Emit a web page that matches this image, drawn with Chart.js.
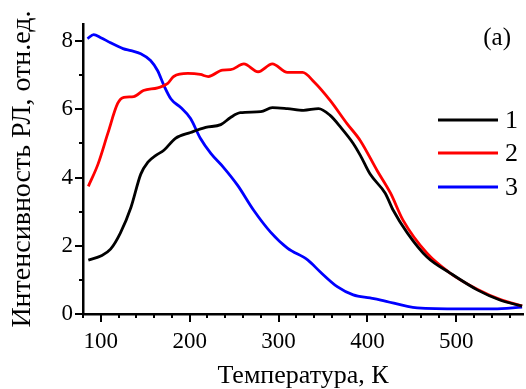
<!DOCTYPE html>
<html><head><meta charset="utf-8">
<script src="https://cdn.jsdelivr.net/npm/chart.js@4"></script>
<style>html,body{margin:0;padding:0;background:#fff}#wrap{width:526px;height:389px}</style>
</head><body><div id="wrap"><canvas id="c" width="526" height="389"></canvas></div>
<script>
const temps1 = [86,100,111,122,134,145,153,162,171,184,201,218,235,246,257,280,293,310,328,345,358,370,384,392,403,420,429,445,467,493,524,549,574];
const vals1  = [1.58,1.7,1.9,2.37,3.13,4.1,4.45,4.65,4.8,5.15,5.32,5.47,5.55,5.76,5.9,5.93,6.05,6.02,5.97,6.02,5.82,5.47,5.0,4.65,4.1,3.54,3.04,2.37,1.67,1.2,0.7,0.41,0.23];
const temps2 = [86,97,108,119,126,137,148,164,175,182,198,212,221,237,246,261,277,293,310,327,340,358,377,392,411,426,440,467,493,524,549,574];
const vals2  = [3.74,4.4,5.3,6.17,6.35,6.37,6.55,6.63,6.75,6.96,7.05,7.02,6.96,7.15,7.16,7.33,7.1,7.33,7.08,7.08,6.8,6.26,5.58,5.08,4.2,3.54,2.75,1.78,1.2,0.72,0.43,0.24];
const temps3 = [85,92,100,111,125,134,145,156,164,171,179,190,201,212,224,238,254,272,291,310,333,347,366,384,403,415,456,505,542,574];
const vals3  = [8.07,8.19,8.1,7.95,7.78,7.72,7.63,7.43,7.13,6.7,6.3,6.05,5.73,5.15,4.7,4.3,3.77,3.04,2.4,1.93,1.58,1.23,0.8,0.56,0.47,0.41,0.18,0.15,0.15,0.2];
const seriesLabels = ['1','2','3'];
const seriesColors = ['#000000','#ff0000','#0000ff'];
const xTickLabels = [100,200,300,400,500];
const yTickLabels = [0,2,4,6,8];
const xTitle = 'Температура, К';
const yTitle = 'Интенсивность РЛ, отн.ед.';
const panelLabel = '(a)';

const FONT = "'Liberation Serif','Times New Roman',serif";
Chart.defaults.font.family = FONT;
Chart.defaults.color = '#000';

function pts(t, v){ return t.map((x,i)=>({x:x, y:v[i]})); }
const allT = [temps1, temps2, temps3];
const allV = [vals1, vals2, vals3];

const decor = {
  id: 'decor',
  afterDraw(chart){
    const ctx = chart.ctx, xs = chart.scales.x, ys = chart.scales.y, a = chart.chartArea;
    ctx.save();
    ctx.strokeStyle = '#000'; ctx.lineWidth = 2;
    for (let v = 80; v <= 575; v += 20){
      const px = Math.round(xs.getPixelForValue(v));
      const L = v % 100 === 0 ? 8 : 4;
      ctx.beginPath(); ctx.moveTo(px, a.bottom); ctx.lineTo(px, a.bottom + L); ctx.stroke();
    }
    for (let v = 0; v <= 8; v += 1){
      const py = Math.round(ys.getPixelForValue(v));
      const L = v % 2 === 0 ? 8 : 4;
      ctx.beginPath(); ctx.moveTo(a.left, py); ctx.lineTo(a.left - L, py); ctx.stroke();
    }
    // legend
    const ly = [120, 153, 187];
    ctx.font = "26px " + FONT;
    ctx.textBaseline = 'middle'; ctx.textAlign = 'left';
    for (let i = 0; i < 3; i++){
      ctx.strokeStyle = seriesColors[i]; ctx.lineWidth = 3;
      ctx.beginPath(); ctx.moveTo(438, ly[i]); ctx.lineTo(498, ly[i]); ctx.stroke();
      ctx.fillStyle = '#000';
      ctx.fillText(seriesLabels[i], 505, ly[i] + 1);
    }
    ctx.font = "25px " + FONT;
    ctx.textAlign = 'right';
    ctx.fillText(panelLabel, 511, 38);
    ctx.restore();
  }
};

new Chart(document.getElementById('c'), {
  type: 'line',
  data: {
    datasets: [0,1,2].map(i => ({
      label: seriesLabels[i],
      data: pts(allT[i], allV[i]),
      borderColor: seriesColors[i],
      borderWidth: 2.8,
      pointRadius: 0,
      fill: false,
      cubicInterpolationMode: 'monotone'
    }))
  },
  options: {
    responsive: false,
    animation: false,
    layout: { padding: { top: 24, right: 3, left: 0, bottom: 0 } },
    plugins: { legend: { display: false }, tooltip: { enabled: false } },
    scales: {
      x: {
        type: 'linear', min: 80, max: 575,
        grid: { display: false, drawTicks: false },
        border: { display: true, color: '#000', width: 2.5 },
        afterBuildTicks: s => { s.ticks = xTickLabels.map(v => ({ value: v })); },
        ticks: {
          autoSkip: false, maxRotation: 0, padding: 14,
          font: { size: 23 },
          callback: v => String(v)
        },
        title: { display: true, text: xTitle, font: { size: 26 }, padding: { top: 0, bottom: -3 } },
        afterFit: s => { s.height = 75; }
      },
      y: {
        min: 0, max: 8.5,
        grid: { display: false, drawTicks: false },
        border: { display: true, color: '#000', width: 2.5 },
        afterBuildTicks: s => { s.ticks = yTickLabels.map(v => ({ value: v })); },
        ticks: {
          autoSkip: false, padding: 10,
          font: { size: 23 },
          callback: v => String(v)
        },
        title: { display: true, text: yTitle, font: { size: 28 }, padding: { top: 6, bottom: 0 } },
        afterFit: s => { s.width = 83; }
      }
    }
  },
  plugins: [decor]
});
</script>
</body></html>
